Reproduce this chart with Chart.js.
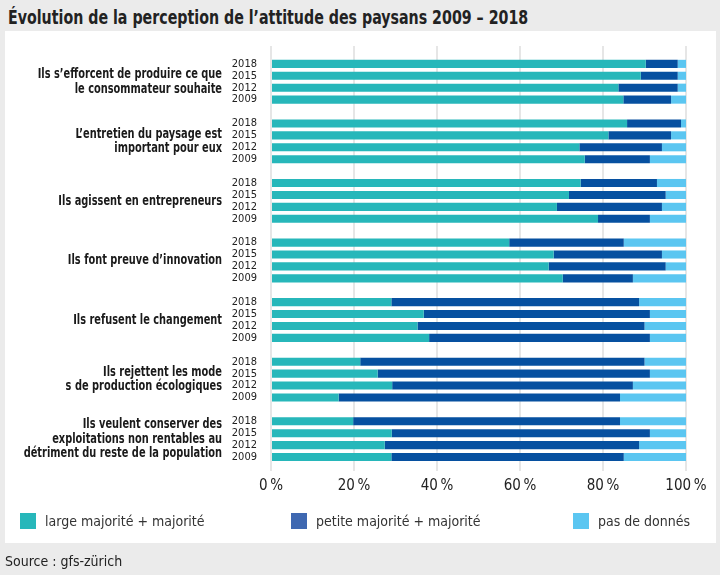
<!DOCTYPE html>
<html lang="fr">
<head>
<meta charset="utf-8">
<script src="https://cdn.jsdelivr.net/npm/chart.js@4/dist/chart.umd.min.js"></script>
<style>
  html, body { margin: 0; padding: 0; }
  body {
    width: 720px; height: 575px; position: relative; overflow: hidden;
    background: #ebebeb;
    font-family: "DejaVu Sans Condensed", Roboto, sans-serif;
    color: #222;
  }
  #title { position: absolute; left: 8px; top: 5px; font-size: 20px; font-weight: bold; white-space: nowrap;
           transform: scaleX(0.79); transform-origin: left top; }
  #panel { position: absolute; left: 5px; top: 31px; width: 711px; height: 512px; background: #fff; }
  #wrap { position: absolute; left: 0; top: 0; width: 720px; height: 575px; }
  #legend { position: absolute; left: 20px; top: 513px; width: 696px; display: grid; grid-template-columns: 271px 282px auto;
            font-size: 14px; color: #333; line-height: 16px; white-space: nowrap; }
  #legend span.box { display: inline-block; width: 16px; height: 16px; margin-right: 9px; vertical-align: top; }
  #source { position: absolute; left: 5px; top: 553px; font-size: 14px; }
</style>
</head>
<body>
<div id="title">Évolution de la perception de l’attitude des paysans 2009 – 2018</div>
<div id="panel"></div>
<div id="wrap"><canvas id="chart"></canvas></div>
<div id="legend"></div>
<div id="source">Source : gfs-zürich</div>
<script>
const FONT = '"DejaVu Sans Condensed", Roboto, sans-serif';

// statements (multi-line labels)
const groups = [
  ["Ils s’efforcent de produire ce que", "le consommateur souhaite"],
  ["L’entretien du paysage est", "important pour eux"],
  ["Ils agissent en entrepreneurs"],
  ["Ils font preuve d’innovation"],
  ["Ils refusent le changement"],
  ["Ils rejettent les mode", "s de production écologiques"],
  ["Ils veulent conserver des", "exploitations non rentables au", "détriment du reste de la population"],
];
const years = ["2018", "2015", "2012", "2009"];

// 4 values per group, same order as years
const largeMaj = [90.3, 89.1, 83.7, 84.9,  85.8, 81.3, 74.3, 75.6,  74.6, 71.8, 68.9, 78.8,
                  57.4, 68.1, 66.9, 70.3,  29.0, 36.8, 35.3, 38.1,  21.5, 25.7, 29.2, 16.3,
                  19.8, 29.1, 27.4, 29.0];
const petiteMaj = [7.7, 8.9, 14.3, 11.5,  13.0, 15.1, 19.9, 15.7,  18.4, 23.3, 25.3, 12.5,
                   27.6, 26.1, 28.2, 16.9,  59.7, 54.5, 54.7, 53.2,  68.5, 65.6, 58.0, 67.8,
                   64.3, 62.2, 61.3, 56.0];
const noData = [2.0, 2.0, 2.0, 3.6,  1.2, 3.6, 5.8, 8.7,  7.0, 4.9, 5.8, 8.7,
                15.0, 5.8, 4.9, 12.8,  11.3, 8.7, 10.0, 8.7,  10.0, 8.7, 12.8, 15.9,
                15.9, 8.7, 11.3, 15.0];
const xTicks = [0, 20, 40, 60, 80, 100];

// one empty slot before each group of four years
const labels = [];
const slot = (arr) => {
  const out = [];
  groups.forEach((g, i) => {
    out.push(null);
    for (let k = 0; k < 4; k++) out.push(arr[i * 4 + k]);
  });
  return out;
};
groups.forEach(() => { labels.push(""); years.forEach((y) => labels.push(y)); });

const datasets = [
  { label: "large majorité + majorité", data: slot(largeMaj), backgroundColor: "#27b7ba", legendColor: "#27b7ba" },
  { label: "petite majorité + majorité", data: slot(petiteMaj), backgroundColor: "#0650a0", legendColor: "#3f68b1" },
  { label: "pas de donnés", data: slot(noData), backgroundColor: "#5bc6f1", legendColor: "#5bc6f1" },
];

// statement labels, drawn a bit narrower to mimic the condensed face
const groupLabels = {
  id: "groupLabels",
  afterDraw(chart) {
    const c = chart.ctx;
    const y = chart.scales.y;
    const x = chart.chartArea.left - 49;
    const k = 0.78;
    c.save();
    c.scale(k, 1);
    c.font = "bold 14px " + FONT;
    c.fillStyle = "#1a1a1a";
    c.textAlign = "right";
    c.textBaseline = "middle";
    groups.forEach((lines, g) => {
      const cy = (y.getPixelForValue(g * 5 + 1) + y.getPixelForValue(g * 5 + 4)) / 2;
      const lh = 14.5;
      lines.forEach((t, i) => c.fillText(t, x / k, cy + (i - (lines.length - 1) / 2) * lh));
    });
    c.restore();
  },
};

const chart = new Chart(document.getElementById("chart"), {
  type: "bar",
  data: { labels: labels, datasets: datasets },
  options: {
    indexAxis: "y",
    responsive: true,
    maintainAspectRatio: false,
    animation: false,
    datasets: { bar: { categoryPercentage: 1, barPercentage: 0.68 } },
    layout: { padding: { top: 46, right: 34, bottom: 82, left: 0 } },
    plugins: { legend: { display: false }, tooltip: { enabled: false } },
    scales: {
      x: {
        stacked: true,
        min: 0,
        max: 100,
        afterBuildTicks: (s) => { s.ticks = xTicks.map((v) => ({ value: v })); },
        grid: { color: "#e6e6e6", lineWidth: 2, tickLength: 8 },
        border: { display: false },
        ticks: {
          padding: 6,
          color: "#222",
          font: { family: FONT, size: 15 },
          callback: (v) => v + "\u202f%",
        },
        afterFit: (s) => { s.height = 30; },
      },
      y: {
        stacked: true,
        grid: { display: false, drawTicks: false },
        border: { display: false },
        ticks: { autoSkip: false, padding: 14, color: "#222", font: { family: FONT, size: 11 } },
        afterFit: (s) => { s.width = 271; },
      },
    },
  },
  plugins: [groupLabels],
});

// legend built from the datasets
const legend = document.getElementById("legend");
datasets.forEach((d) => {
  const item = document.createElement("div");
  item.innerHTML = '<span class="box" style="background:' + d.legendColor + '"></span>' + d.label;
  legend.appendChild(item);
});
</script>
</body>
</html>
